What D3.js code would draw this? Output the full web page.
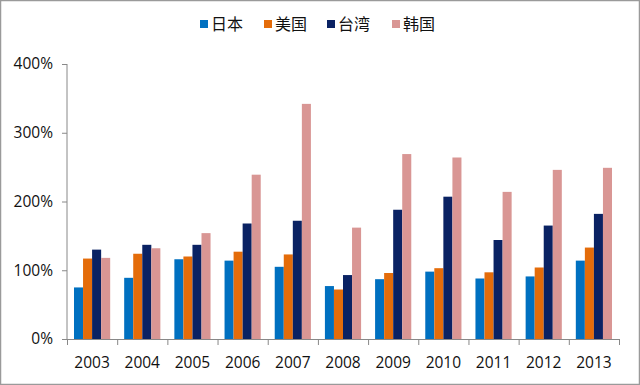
<!DOCTYPE html>
<html>
<head>
<meta charset="utf-8">
<script src="https://cdn.jsdelivr.net/npm/d3@7"></script>
<style>
  body { margin: 0; background: #fff; }
  svg { display: block; }
</style>
</head>
<body>
<svg id="chart" width="640" height="385"></svg>
<script>
// data (percent)
var years = ["2003", "2004", "2005", "2006", "2007", "2008", "2009", "2010", "2011", "2012", "2013"];
var seriesNames = ["日本", "美国", "台湾", "韩国"];
var seriesColors = ["#0070C0", "#E46C0A", "#0A2263", "#D99694"];
var japan  = [75, 89, 116, 114, 105, 77, 87, 98, 88, 91, 114];
var usa    = [117, 124, 120, 127, 123, 72, 96, 103, 97, 104, 133];
var taiwan = [130, 137, 137, 168, 172, 93, 188, 207, 144, 165, 182];
var korea  = [118, 132, 154, 239, 342, 162, 269, 264, 214, 246, 249];
var yTicks = [0, 100, 200, 300, 400];

var allSeries = [japan, usa, taiwan, korea];

var svg = d3.select("#chart");
var margin = { top: 64, right: 21, bottom: 46, left: 67 };
var width = 640 - margin.left - margin.right;
var height = 385 - margin.top - margin.bottom;

// border round the picture
svg.append("rect")
  .attr("x", 0.5).attr("y", 0.5)
  .attr("width", 639).attr("height", 384)
  .attr("fill", "#fff")
  .attr("stroke", "#9a9a9a")
  .attr("stroke-width", 1.5);

var g = svg.append("g")
  .attr("transform", "translate(" + margin.left + "," + margin.top + ")");

var x = d3.scaleBand().domain(years).range([0, width]).paddingInner(0).paddingOuter(0);
var x1 = d3.scaleBand().domain(d3.range(seriesNames.length))
  .range([7, x.bandwidth() - 7]).padding(0);
var y = d3.scaleLinear().domain([0, 400]).range([height, 0]);

// bars
var groups = g.selectAll("g.year")
  .data(years)
  .enter()
  .append("g")
  .attr("class", "year")
  .attr("transform", function (d) { return "translate(" + x(d) + ",0)"; });

groups.selectAll("rect")
  .data(function (d, i) {
    return allSeries.map(function (s, k) { return { k: k, v: s[i] }; });
  })
  .enter()
  .append("rect")
  .attr("x", function (d) { return x1(d.k); })
  .attr("width", x1.bandwidth())
  .attr("y", function (d) { return y(d.v); })
  .attr("height", function (d) { return height - y(d.v); })
  .attr("fill", function (d) { return seriesColors[d.k]; });

// y axis
var yAxis = d3.axisLeft(y)
  .tickValues(yTicks)
  .tickSize(5)
  .tickPadding(9)
  .tickFormat(function (d) { return d + "%"; });
var yg = g.append("g").call(yAxis);
yg.select(".domain").attr("stroke", "#888").attr("d", "M0," + height + "V0");
yg.selectAll(".tick line").attr("stroke", "#888");
yg.selectAll("text")
  .attr("fill", "#111")
  .style("font-family", "'Open Sans', sans-serif")
  .style("font-size", "15.5px");

// x axis with ticks between categories
var xg = g.append("g").attr("transform", "translate(0," + height + ")");
xg.append("line")
  .attr("x1", 0).attr("x2", width)
  .attr("y1", 0.5).attr("y2", 0.5)
  .attr("stroke", "#888");
xg.selectAll("line.sep")
  .data(years.concat(["end"]))
  .enter()
  .append("line")
  .attr("class", "sep")
  .attr("x1", function (d, i) { return i * x.bandwidth() + 0.5; })
  .attr("x2", function (d, i) { return i * x.bandwidth() + 0.5; })
  .attr("y1", 0).attr("y2", 6)
  .attr("stroke", "#888");
xg.selectAll("text")
  .data(years)
  .enter()
  .append("text")
  .attr("x", function (d) { return x(d) + x.bandwidth() / 2; })
  .attr("y", 29)
  .attr("text-anchor", "middle")
  .attr("fill", "#111")
  .style("font-family", "'Open Sans', sans-serif")
  .style("font-size", "15.5px")
  .text(function (d) { return d; });

// legend
var legendX = [200, 264, 327, 392];
var legend = svg.append("g");
var items = legend.selectAll("g")
  .data(seriesNames)
  .enter()
  .append("g")
  .attr("transform", function (d, i) { return "translate(" + legendX[i] + ",24)"; });
items.append("rect")
  .attr("x", 0).attr("y", -4)
  .attr("width", 8).attr("height", 8)
  .attr("fill", function (d, i) { return seriesColors[i]; });
items.append("text")
  .attr("x", 11)
  .attr("y", 0)
  .attr("dy", "0.36em")
  .attr("fill", "#111")
  .style("font-family", "'Noto Sans CJK SC', sans-serif")
  .style("font-size", "16px")
  .text(function (d) { return d; });
</script>
</body>
</html>
